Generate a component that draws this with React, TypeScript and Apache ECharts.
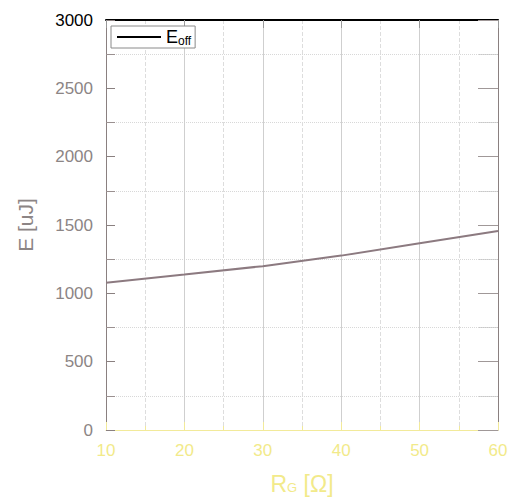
import React, { useEffect, useRef } from 'react';
import * as echarts from 'echarts';

const rgValues = [10, 20, 30, 40, 50, 60];
const eoffValues = [1078, 1137, 1199, 1276, 1366, 1456];
const seriesName = 'Eoff';
const xTitle = '{r|R}{g|G}{r| [Ω]}';
const yTitle = 'E [uJ]';

export default function App() {
  const ref = useRef<HTMLDivElement>(null);
  useEffect(() => {
    const chart = echarts.init(ref.current!, null, { renderer: 'svg' });
    const font = 'Liberation Sans, Arial, sans-serif';
    chart.setOption({
      animation: false,
      backgroundColor: '#fff',
      grid: { left: 106, right: 19, top: 20, bottom: 68, containLabel: false },
      legend: {
        show: true,
        left: 111,
        top: 26,
        padding: [2, 4, 1, 6],
        itemWidth: 44,
        itemHeight: 2,
        itemGap: 4,
        borderColor: '#8a8a8a',
        borderWidth: 1,
        backgroundColor: '#fff',
        icon: 'rect',
        itemStyle: { color: '#000', borderWidth: 0 },
        formatter: () => '{a|E}{b|off}',
        textStyle: {
          fontFamily: font,
          rich: {
            a: { fontSize: 18, color: '#000', fontFamily: font },
            b: { fontSize: 12, color: '#000', fontFamily: font, padding: [8, 0, 0, 0] },
          },
        },
        data: [seriesName],
      },
      xAxis: [
        {
          type: 'value',
          min: 10,
          max: 60,
          interval: 10,
          position: 'bottom',
          axisLine: { show: true, onZero: false, lineStyle: { color: '#f2ea9a', width: 1 } },
          axisTick: { show: true, inside: true, length: 8, lineStyle: { color: '#f2ea9a' } },
          minorTick: { show: true, splitNumber: 2, length: 4, lineStyle: { color: '#f2ea9a' } },
          axisLabel: { show: true, fontSize: 17, fontFamily: font, color: '#f2ea8a', margin: 12, formatter: (v: number) => String(v) },
          splitLine: { show: true, lineStyle: { color: '#cfcfcf', width: 1, type: 'solid' } },
          minorSplitLine: { show: true, lineStyle: { color: '#dddddd', width: 1, type: 'dashed' } },
          name: xTitle,
          nameLocation: 'middle',
          nameGap: 42,
          nameTextStyle: {
            fontFamily: font,
            rich: {
              r: { fontSize: 23, color: '#f2ea8a', fontFamily: font },
              g: { fontSize: 13, color: '#f2ea8a', fontFamily: font, padding: [8, 0, 0, 0] },
            },
          },
        },
        {
          type: 'value',
          min: 10,
          max: 60,
          interval: 10,
          position: 'top',
          axisLine: { show: true, onZero: false, lineStyle: { color: '#000', width: 2 } },
          axisTick: { show: true, inside: true, length: 8, lineStyle: { color: '#999' } },
          axisLabel: { show: false },
          splitLine: { show: false },
        },
      ],
      yAxis: [
        {
          type: 'value',
          min: 0,
          max: 3000,
          interval: 500,
          position: 'left',
          axisLine: { show: true, onZero: false, lineStyle: { color: '#8a8080', width: 1 } },
          axisTick: { show: true, inside: true, length: 9, lineStyle: { color: '#8a8080' } },
          minorTick: { show: true, splitNumber: 2, length: 9, lineStyle: { color: '#9a9090' } },
          axisLabel: {
            show: true,
            fontSize: 17,
            fontFamily: font,
            margin: 13,
            formatter: (v: number) => String(v),
            color: (v: any) => (Number(v) === 3000 ? '#000' : '#8c8585'),
          },
          splitLine: { show: false },
          minorSplitLine: { show: true, lineStyle: { color: '#d8d8d8', width: 1, type: 'dotted' } },
          name: yTitle,
          nameLocation: 'middle',
          nameGap: 70,
          nameRotate: 90,
          nameTextStyle: { fontSize: 21, fontFamily: font, color: '#8c8585' },
        },
        {
          type: 'value',
          min: 0,
          max: 3000,
          interval: 500,
          position: 'right',
          axisLine: { show: true, onZero: false, lineStyle: { color: '#8a8080', width: 1 } },
          axisTick: { show: true, inside: true, length: 20, lineStyle: { color: '#a09898' } },
          minorTick: { show: true, splitNumber: 2, length: 20, lineStyle: { color: '#c8c8c8', type: 'dotted' } },
          axisLabel: { show: false },
          splitLine: { show: false },
        },
      ],
      series: [
        {
          name: seriesName,
          type: 'line',
          xAxisIndex: 0,
          yAxisIndex: 0,
          showSymbol: false,
          symbol: 'none',
          lineStyle: { color: '#8c7a80', width: 2 },
          itemStyle: { color: '#8c7a80' },
          data: rgValues.map((x, i) => [x, eoffValues[i]]),
        },
      ],
    });
    return () => chart.dispose();
  }, []);
  return <div ref={ref} style={{ width: 517, height: 500, position: 'absolute', left: 0, top: 0 }} />;
}
